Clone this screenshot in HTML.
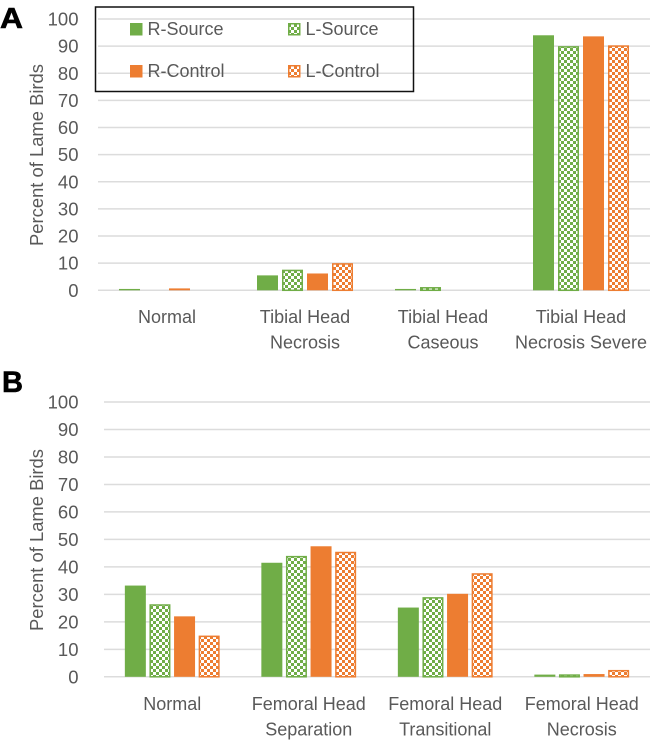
<!DOCTYPE html>
<html lang="en">
<head>
<meta charset="utf-8">
<title>Percent of Lame Birds</title>
<style>
html,body{margin:0;padding:0;background:#fff;width:650px;height:742px;overflow:hidden}
svg{display:block;font-family:"Liberation Sans",sans-serif}
</style>
</head>
<body>
<svg id="fig" width="650" height="742" viewBox="0 0 650 742" xmlns="http://www.w3.org/2000/svg">
<defs>
<pattern id="check-green" width="6" height="6" patternUnits="userSpaceOnUse">
<rect width="6" height="6" fill="#fff"/>
<rect width="3" height="3" fill="#70ad47"/>
<rect x="3" y="3" width="3" height="3" fill="#70ad47"/>
</pattern>
<pattern id="check-orange" width="6" height="6" patternUnits="userSpaceOnUse">
<rect width="6" height="6" fill="#fff"/>
<rect width="3" height="3" fill="#ed7d31"/>
<rect x="3" y="3" width="3" height="3" fill="#ed7d31"/>
</pattern>
</defs>
<g id="panel-a"></g>
<g id="panel-b"></g>
<text x="0" y="28" font-size="29" font-weight="bold" fill="#000" stroke="#000" stroke-width="0.6" textLength="23" lengthAdjust="spacingAndGlyphs">A</text>
<text x="2" y="392" font-size="30" font-weight="bold" fill="#000" stroke="#000" stroke-width="0.6" textLength="21" lengthAdjust="spacingAndGlyphs">B</text>
<g id="legend">
<rect x="95.5" y="7" width="318" height="84.5" fill="none" stroke="#111" stroke-width="1.5"/>
</g>
</svg>
<script>
const yTicks = [0, 10, 20, 30, 40, 50, 60, 70, 80, 90, 100];
const seriesNames = ['R-Source', 'L-Source', 'R-Control', 'L-Control'];

const categoriesA = [['Normal'], ['Tibial Head', 'Necrosis'], ['Tibial Head', 'Caseous'], ['Tibial Head', 'Necrosis Severe']];
const rSourceA = [0.5, 5.5, 0.5, 94];
const lSourceA = [0, 7.6, 1.2, 90];
const rControlA = [0.7, 6.2, 0, 93.6];
const lControlA = [0, 10, 0, 90.3];

const categoriesB = [['Normal'], ['Femoral Head', 'Separation'], ['Femoral Head', 'Transitional'], ['Femoral Head', 'Necrosis']];
const rSourceB = [33.2, 41.5, 25.2, 0.8];
const lSourceB = [26.4, 44, 29, 0.9];
const rControlB = [22, 47.5, 30.2, 1];
const lControlB = [15, 45.5, 37.7, 2.5];

const NS = 'http://www.w3.org/2000/svg';
const fills = ['#70ad47', 'url(#check-green)', '#ed7d31', 'url(#check-orange)'];
const strokes = ['none', '#70ad47', 'none', '#ed7d31'];
const TEXT = '#595959';

function make(parent, tag, attrs, text) {
  const el = document.createElementNS(NS, tag);
  for (const k in attrs) el.setAttribute(k, attrs[k]);
  if (text !== undefined) el.textContent = text;
  parent.appendChild(el);
  return el;
}

function drawChart(root, cfg) {
  const y = v => cfg.y0 + (cfg.y100 - cfg.y0) * v / 100;
  const step = (cfg.x1 - cfg.x0) / cfg.categories.length;
  const cx = i => cfg.x0 + step * (i + 0.5);

  yTicks.forEach(t => {
    const line = make(root, 'line', {x1: cfg.x0, x2: cfg.x1, y1: y(t), y2: y(t), stroke: '#dcdcdc', 'stroke-width': 1.5});
    
    
    const label = make(root, 'text', {x: 78.5, y: y(t) + 6.5, 'text-anchor': 'end', 'font-size': 18.5, fill: TEXT}, t);
    
    
  });

  const title = make(root, 'text', {transform: 'translate(' + 43 + ' ' + cfg.titleY + ') rotate(-90)', 'text-anchor': 'middle', 'font-size': 18.4, fill: TEXT}, 'Percent of Lame Birds');
  
  

  cfg.series.forEach((vals, s) => {
    vals.forEach((v, i) => {
      if (v <= 0) return;
      const inset = strokes[s] === 'none' ? 0 : 0.75;
      const x = cx(i) + (s - 2) * cfg.slot + (cfg.slot - cfg.barW) / 2 + inset;
      const bar = make(root, 'rect', {
        x: x,
        y: y(v) + inset,
        width: cfg.barW - inset * 2,
        height: Math.max(y(0) - y(v) - inset, 0.5),
        fill: fills[s],
        stroke: strokes[s],
        'stroke-width': strokes[s] === 'none' ? 0 : 1.5
      });
      
      
    });
  });

  cfg.categories.forEach((lines, i) => {
    lines.forEach((ln, j) => {
      const label = make(root, 'text', {x: cx(i), y: cfg.labelY + j * 25.5, 'text-anchor': 'middle', 'font-size': 18, fill: TEXT}, ln);
      
      
    });
  });
}

drawChart(document.getElementById('panel-a'), {
  x0: 98, x1: 650, y0: 290.3, y100: 19, slot: 25, barW: 21, titleY: 155, labelY: 323,
  categories: categoriesA,
  series: [rSourceA, lSourceA, rControlA, lControlA]
});
drawChart(document.getElementById('panel-b'), {
  x0: 104, x1: 650, y0: 676.8, y100: 402, slot: 24.6, barW: 21, titleY: 540, labelY: 710,
  categories: categoriesB,
  series: [rSourceB, lSourceB, rControlB, lControlB]
});

const legend = document.getElementById('legend');
const legendCols = [130, 288];
const legendRows = [23, 65];
seriesNames.forEach((name, i) => {
  const col = legendCols[i % 2];
  const row = legendRows[i >> 1];
  const inset = strokes[i] === 'none' ? 0 : 0.75;
  const swatch = make(legend, 'rect', {
    x: col + inset, y: row + inset,
    width: 12.5 - inset * 2, height: 12.5 - inset * 2,
    fill: fills[i], stroke: strokes[i], 'stroke-width': strokes[i] === 'none' ? 0 : 1.5
  });
  
  
  const label = make(legend, 'text', {x: col + 17.5, y: row + 12, 'font-size': 18, fill: TEXT}, name);
  
  
});
</script>
</body>
</html>
